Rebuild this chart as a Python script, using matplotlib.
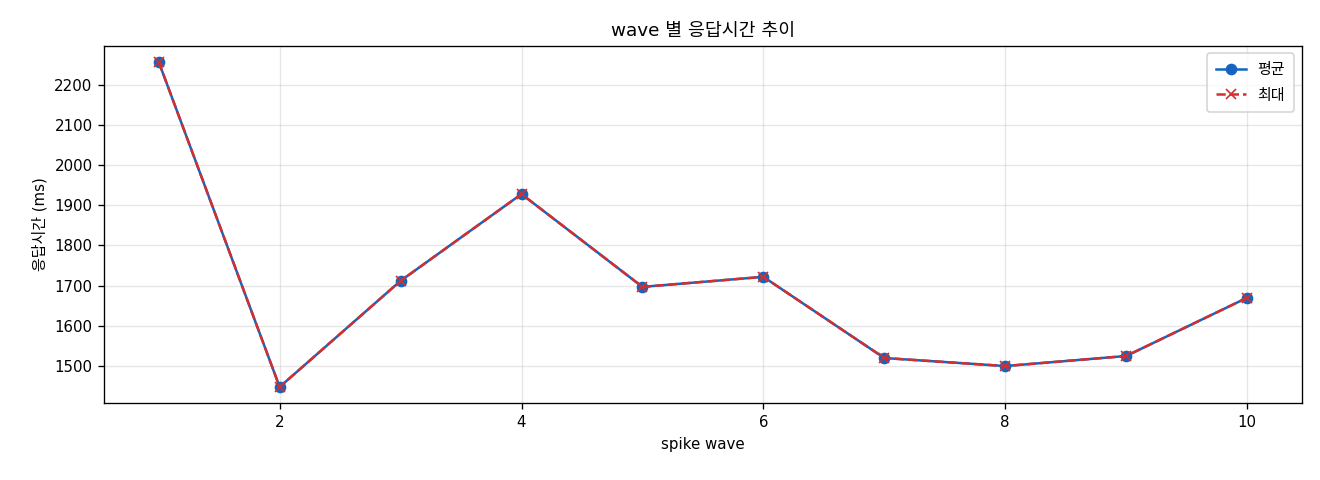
import numpy as np
import matplotlib
matplotlib.use("Agg")
from matplotlib import pyplot as plt

plt.rcParams['font.family'] = ['DejaVu Sans', 'Noto Sans CJK KR']
plt.rcParams['axes.unicode_minus'] = False

# wave 별 응답시간 (ms)
waves = [1, 2, 3, 4, 5, 6, 7, 8, 9, 10]
avg_ms = [2257, 1448, 1712, 1928, 1697, 1722, 1520, 1500, 1525, 1670]
max_ms = [2257, 1448, 1712, 1928, 1697, 1722, 1520, 1500, 1525, 1670]

fig, ax = plt.subplots(figsize=(11, 4), dpi=120)
ax.plot(waves, avg_ms, marker='o', color='#1565C0', linewidth=1.5, markersize=6, label='평균')
ax.plot(waves, max_ms, marker='x', linestyle='--', color='#D32F2F', linewidth=1.5, markersize=6, label='최대')

ax.set_title('wave 별 응답시간 추이', fontsize=11)
ax.set_xlabel('spike wave', fontsize=9)
ax.set_ylabel('응답시간 (ms)', fontsize=9)
ax.tick_params(labelsize=9)
ax.grid(True, alpha=0.3)
ax.legend(fontsize=9, borderpad=0.6, labelspacing=0.7)

plt.subplots_adjust(left=0.079, right=0.986, top=0.905, bottom=0.16)
plt.savefig("out.png")
